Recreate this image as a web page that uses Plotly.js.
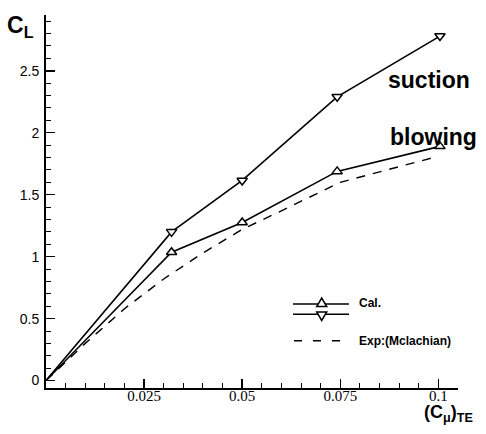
<!DOCTYPE html>
<html>
<head>
<meta charset="utf-8">
<script src="https://cdn.plot.ly/plotly-3.0.1.min.js"></script>
<style>html,body{margin:0;padding:0;background:#fff;}#chart{width:486px;height:434px;}</style>
</head>
<body>
<div id="chart"></div>
<script>
// ---- data ----
const xCal = [0, 0.032, 0.05, 0.0742, 0.1004];
const suction = [0, 1.20, 1.615, 2.29, 2.78];
const blowing = [0, 1.036, 1.276, 1.688, 1.89];
const xExp = [0, 0.01, 0.02, 0.03, 0.04, 0.05, 0.06, 0.075, 0.1];
const expMclachian = [0, 0.30, 0.58, 0.82, 1.03, 1.22, 1.37, 1.60, 1.81];
const xTickVals = [0.025, 0.05, 0.075, 0.1];
const xTickText = ['0.025', '0.05', '0.075', '0.1'];
const yTickVals = [0, 0.5, 1, 1.5, 2, 2.5];
const yTickText = ['0', '0.5', '1', '1.5', '2', '2.5'];

// ---- geometry helpers ----
const L = 46, T = 15, W = 412, H = 373;
const px = p => (p - L) / W;
const py = p => (T + H - p) / H;

const markerSizes = xCal.map((x, i) => i === 0 ? 0 : 9);

const traces = [
  {x: xCal, y: suction, mode: 'lines+markers', type: 'scatter',
   line: {color: '#000', width: 1.6},
   marker: {symbol: 'triangle-down', size: markerSizes, color: '#ffffff', opacity: 1, line: {color: '#000', width: 1.5}},
   showlegend: false, cliponaxis: false},
  {x: xCal, y: blowing, mode: 'lines+markers', type: 'scatter',
   line: {color: '#000', width: 1.6},
   marker: {symbol: 'triangle-up', size: markerSizes, color: '#ffffff', opacity: 1, line: {color: '#000', width: 1.5}},
   showlegend: false, cliponaxis: false},
  {x: xExp, y: expMclachian, mode: 'lines', type: 'scatter',
   line: {color: '#000', width: 1.4, dash: '9px,8px'},
   showlegend: false}
];

const bold = {family: 'Liberation Sans, Arial, sans-serif', color: '#000'};

const layout = {
  width: 486, height: 434,
  margin: {l: L, r: 486 - L - W, t: T, b: 434 - T - H, pad: 0},
  paper_bgcolor: '#fff', plot_bgcolor: '#fff',
  showlegend: false,
  xaxis: {
    range: [0, 0.105], showgrid: false, zeroline: false,
    showline: true, linecolor: '#000', linewidth: 2,
    ticks: 'inside', ticklen: 9, tickwidth: 1.5, tickcolor: '#000',
    tickvals: xTickVals, ticktext: xTickText,
    tickfont: {family: 'Liberation Serif, Times New Roman, serif', size: 15, color: '#000'},
    ticklabelstandoff: -7,
    minor: {dtick: 0.005, tick0: 0, ticks: 'inside', ticklen: 5, tickwidth: 1, tickcolor: '#000', showgrid: false}
  },
  yaxis: {
    range: [-0.06, 2.95], showgrid: false, zeroline: false,
    showline: true, linecolor: '#000', linewidth: 2,
    ticks: 'inside', ticklen: 9, tickwidth: 1.5, tickcolor: '#000',
    tickvals: yTickVals, ticktext: yTickText,
    tickfont: {family: 'Liberation Sans, Arial, sans-serif', size: 14, color: '#000'},
    ticklabelstandoff: 2,
    minor: {dtick: 0.1, tick0: 0, ticks: 'inside', ticklen: 5, tickwidth: 1, tickcolor: '#000', showgrid: false}
  },
  shapes: [
    {type: 'line', xref: 'paper', yref: 'paper', x0: px(293), x1: px(349), y0: py(304), y1: py(304), line: {color: '#000', width: 1.6}},
    {type: 'line', xref: 'paper', yref: 'paper', x0: px(293), x1: px(349), y0: py(314.3), y1: py(314.3), line: {color: '#000', width: 1.6}},
    {type: 'line', xref: 'paper', yref: 'paper', x0: px(294), x1: px(342), y0: py(340.7), y1: py(340.7), line: {color: '#000', width: 1.4, dash: '8px,11px'}},
    {type: 'path', xref: 'paper', yref: 'paper',
     path: `M ${px(316.7)} ${py(306.5)} L ${px(326.7)} ${py(306.5)} L ${px(321.7)} ${py(298)} Z`,
     fillcolor: '#fff', line: {color: '#000', width: 1.5}},
    {type: 'path', xref: 'paper', yref: 'paper',
     path: `M ${px(316.7)} ${py(312)} L ${px(326.7)} ${py(312)} L ${px(321.7)} ${py(320.5)} Z`,
     fillcolor: '#fff', line: {color: '#000', width: 1.5}}
  ],
  annotations: [
    {text: '<b>C<sub>L</sub></b>', xref: 'paper', yref: 'paper', x: px(5), y: py(10), xanchor: 'left', yanchor: 'top',
     showarrow: false, font: Object.assign({size: 23}, bold)},
    {text: '<b>(C<sub>μ</sub>)<sub>TE</sub></b>', xref: 'paper', yref: 'paper', x: px(423), y: py(401), xanchor: 'left', yanchor: 'top',
     showarrow: false, borderpad: 0, font: Object.assign({size: 18}, bold)},
    {text: '<b>suction</b>', xref: 'paper', yref: 'paper', x: px(429), y: py(80), xanchor: 'center', yanchor: 'middle',
     showarrow: false, font: Object.assign({size: 23}, bold)},
    {text: '<b>blowing</b>', xref: 'paper', yref: 'paper', x: px(433), y: py(137), xanchor: 'center', yanchor: 'middle',
     showarrow: false, font: Object.assign({size: 23}, bold)},
    {text: '<b>Cal.</b>', xref: 'paper', yref: 'paper', x: px(357), y: py(303), xanchor: 'left', yanchor: 'middle',
     showarrow: false, font: Object.assign({size: 12}, bold)},
    {text: '<b>Exp:(Mclachian)</b>', xref: 'paper', yref: 'paper', x: px(357), y: py(341), xanchor: 'left', yanchor: 'middle',
     showarrow: false, font: Object.assign({size: 12}, bold)}
  ]
};

Plotly.newPlot('chart', traces, layout, {displayModeBar: false, staticPlot: true});
</script>
</body>
</html>
